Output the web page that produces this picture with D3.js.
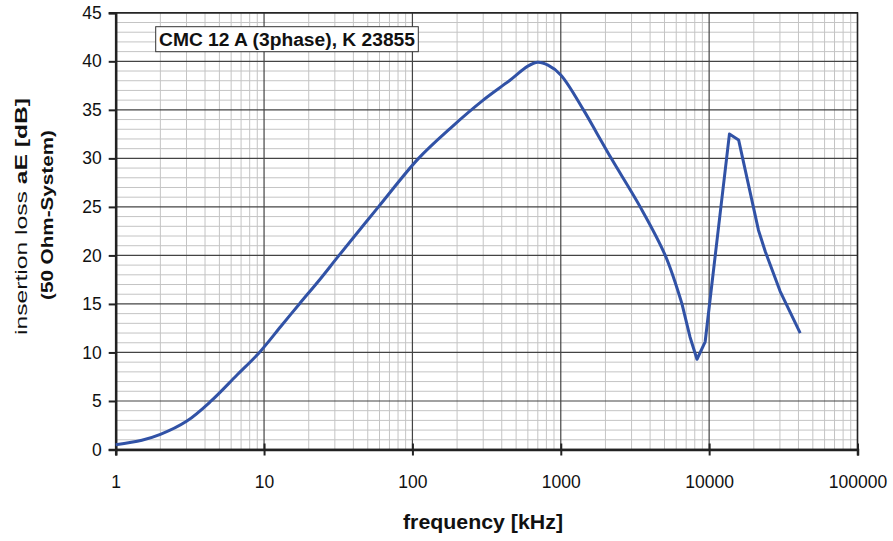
<!DOCTYPE html>
<html>
<head>
<meta charset="utf-8">
<script src="https://cdn.jsdelivr.net/npm/d3@7"></script>
<style>
  body { margin: 0; background: #fff; }
  text { font-family: "Liberation Sans", Arial, sans-serif; fill: #111; }
</style>
</head>
<body>
<div id="chart"></div>
<script>
// insertion loss curve
const freq = [1, 1.5, 2, 3, 4.4, 6.5, 9.3, 13, 17.3, 24, 32, 59, 110, 180, 300, 450, 600, 700, 820, 1000, 1422, 1750, 2188, 3430, 5060, 6560, 7430, 8280, 9400, 13700, 15800, 21500, 23900, 30100, 41100];
const loss = [0.5, 0.95, 1.55, 2.9, 5.0, 7.6, 10, 12.7, 15, 17.6, 20, 25, 30, 33.1, 36.0, 38.0, 39.5, 39.9, 39.6, 38.6, 35, 32.6, 30, 25, 20, 15, 11.6, 9.3, 11.1, 32.5, 31.9, 22.6, 20.4, 16.3, 12.0];
const smoothEnd = 25; // points up to here are drawn as a smoothed curve

const xTicks = [1, 10, 100, 1000, 10000, 100000];
const yTicks = [0, 5, 10, 15, 20, 25, 30, 35, 40, 45];
const title = "CMC 12 A (3phase), K 23855";

const width = 893, height = 541;
const margin = { top: 12.8, right: 35.5, bottom: 91.5, left: 115.7 };

const svg = d3.select("#chart").append("svg")
  .attr("width", width)
  .attr("height", height);

const x = d3.scaleLog()
  .domain([1, 100000])
  .range([margin.left, width - margin.right]);

const y = d3.scaleLinear()
  .domain([0, 45])
  .range([height - margin.bottom, margin.top]);

// minor grid
const minorX = [];
for (let d = 1; d < 100000; d *= 10)
  for (let k = 2; k <= 9; k++) minorX.push(d * k);
const minorY = d3.range(0, 46).filter(v => v % 5 !== 0);

const grid = svg.append("g");
grid.selectAll("line.mx").data(minorX).join("line")
  .attr("x1", d => x(d)).attr("x2", d => x(d))
  .attr("y1", y(0)).attr("y2", y(45))
  .attr("stroke", "#c4c4c4").attr("stroke-width", 1);
grid.selectAll("line.my").data(minorY).join("line")
  .attr("y1", d => y(d)).attr("y2", d => y(d))
  .attr("x1", x(1)).attr("x2", x(100000))
  .attr("stroke", "#c4c4c4").attr("stroke-width", 1);

// major grid
grid.selectAll("line.Mx").data(xTicks).join("line")
  .attr("x1", d => x(d)).attr("x2", d => x(d))
  .attr("y1", y(0)).attr("y2", y(45))
  .attr("stroke", "#444").attr("stroke-width", 1.2);
grid.selectAll("line.My").data(yTicks).join("line")
  .attr("y1", d => y(d)).attr("y2", d => y(d))
  .attr("x1", x(1)).attr("x2", x(100000))
  .attr("stroke", "#444").attr("stroke-width", 1.2);

// frame
svg.append("rect")
  .attr("x", x(1)).attr("y", y(45))
  .attr("width", x(100000) - x(1)).attr("height", y(0) - y(45))
  .attr("fill", "none").attr("stroke", "#222").attr("stroke-width", 1.5);

// axes
const xAxis = svg.append("g")
  .attr("transform", `translate(0,${y(0)})`)
  .call(d3.axisBottom(x).tickValues(xTicks).tickFormat(d3.format("d")).tickSize(6).tickPadding(20));
const yAxis = svg.append("g")
  .attr("transform", `translate(${x(1)},0)`)
  .call(d3.axisLeft(y).tickValues(yTicks).tickSize(7).tickPadding(7));

[xAxis, yAxis].forEach(a => {
  a.select(".domain").attr("stroke", "#222").attr("stroke-width", 2.5);
  a.selectAll(".tick line").attr("stroke", "#222").attr("stroke-width", 2);
  a.selectAll(".tick text")
    .attr("font-size", 17.5)
    .attr("font-family", "Liberation Sans, Arial, sans-serif")
    .attr("fill", "#111");
});
xAxis.selectAll(".tick line").attr("y1", -6);

// curve: smooth part, then the sharp resonance part
const pts = freq.map((f, i) => [f, loss[i]]);
const smooth = d3.line()
  .x(d => x(d[0]))
  .y(d => y(d[1]))
  .curve(d3.curveCatmullRom.alpha(0.5));
const sharp = d3.line()
  .x(d => x(d[0]))
  .y(d => y(d[1]));

svg.append("path")
  .attr("d", smooth(pts.slice(0, smoothEnd + 1)) + sharp(pts.slice(smoothEnd)).replace(/^M/, "L"))
  .attr("fill", "none")
  .attr("stroke", "#3152a6")
  .attr("stroke-width", 3)
  .attr("stroke-linejoin", "round");

// title box
const tb = svg.append("g");
tb.append("rect")
  .attr("x", 155.7).attr("y", 26.7)
  .attr("width", 262.6).attr("height", 25)
  .attr("fill", "#fff").attr("stroke", "#333").attr("stroke-width", 1);
tb.append("text")
  .attr("x", 159).attr("y", 46)
  .attr("font-size", 18).attr("font-weight", "bold")
  .attr("textLength", 256).attr("lengthAdjust", "spacingAndGlyphs")
  .text(title);

// axis titles
svg.append("text")
  .attr("x", 483).attr("y", 529)
  .attr("text-anchor", "middle")
  .attr("font-size", 20).attr("font-weight", "bold")
  .attr("textLength", 160).attr("lengthAdjust", "spacingAndGlyphs")
  .text("frequency [kHz]");

const yl = svg.append("text")
  .attr("transform", "translate(27,216.5) rotate(-90)")
  .attr("text-anchor", "middle")
  .attr("font-size", 17)
  .attr("textLength", 237).attr("lengthAdjust", "spacingAndGlyphs");
yl.append("tspan").text("insertion loss  ");
yl.append("tspan").attr("font-weight", "bold").text("aE  [dB]");

svg.append("text")
  .attr("transform", "translate(53,215) rotate(-90)")
  .attr("text-anchor", "middle")
  .attr("font-size", 17).attr("font-weight", "bold")
  .attr("textLength", 170).attr("lengthAdjust", "spacingAndGlyphs")
  .text("(50 Ohm-System)");
</script>
</body>
</html>
